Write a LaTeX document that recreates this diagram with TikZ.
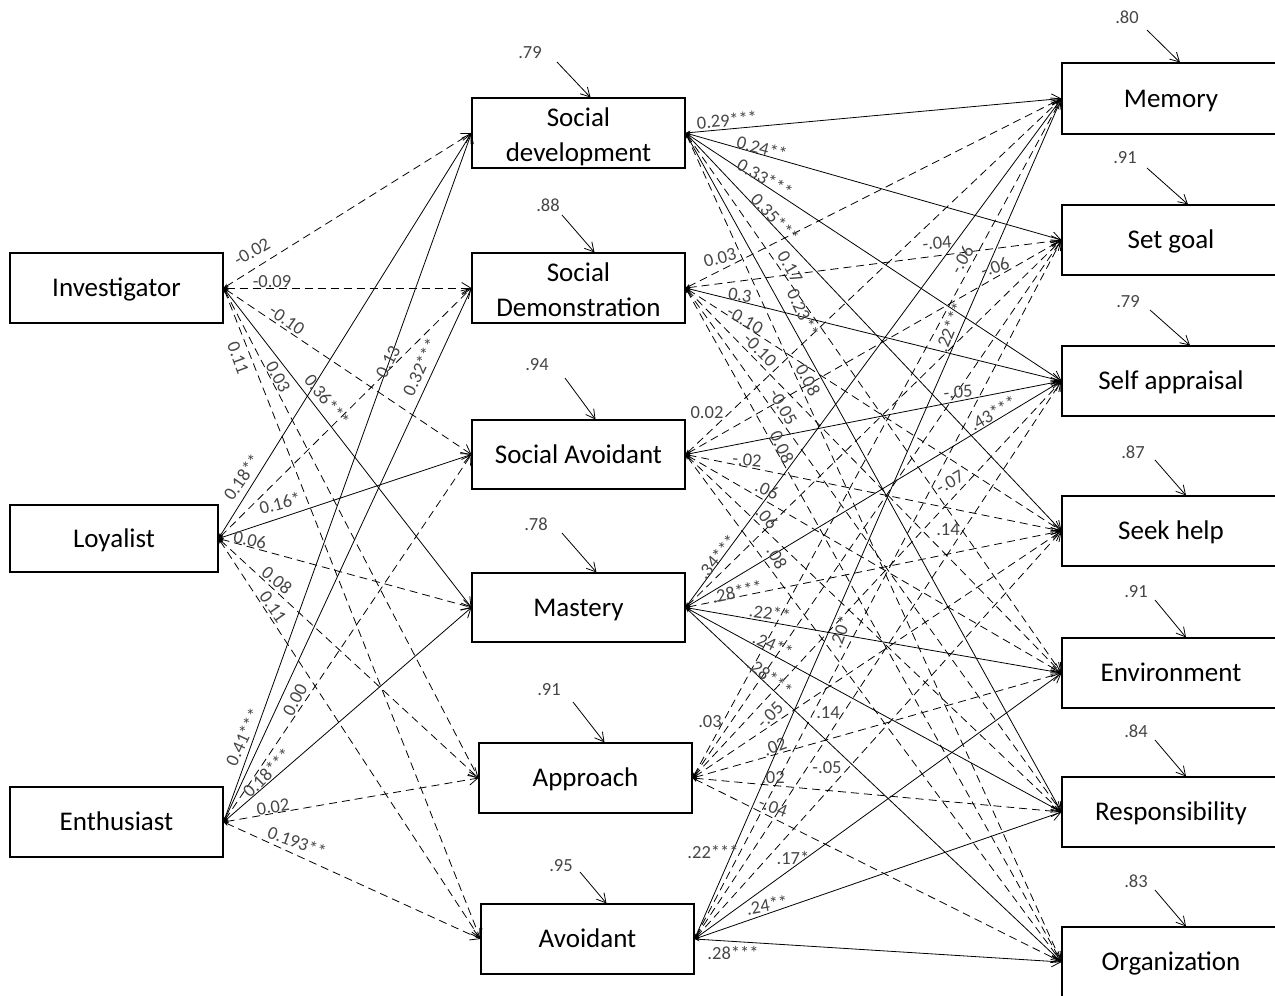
\documentclass[tikz,border=0pt]{standalone}
\usepackage{fontspec}
\setmainfont{Carlito}
\usetikzlibrary{arrows.meta,calc}
\definecolor{lbl}{RGB}{70,70,70}
\begin{document}
\begin{tikzpicture}[x=1pt,y=-1pt,
  box/.style={draw,line width=1.1pt,minimum width=213pt,minimum height=70pt,inner sep=0pt,align=center,font=\fontsize{27}{35}\selectfont,text height=17pt,text depth=0pt},
  box2/.style={box,text height=57pt},
  rbox/.style={box,minimum width=218pt},
  lab/.style={text=lbl,inner sep=0pt,font=\fontsize{18.5}{20}\selectfont},
  sl/.style={line width=0.8pt,arrows={Stealth[length=5pt,width=4pt]-Straight Barb[length=9pt,width=11pt]}},
  dl/.style={sl,dash pattern=on 8pt off 5pt},
  err/.style={line width=0.8pt,arrows={-Straight Barb[length=9pt,width=10pt]}}]
\useasboundingbox (0,0) rectangle (1275,996);
% left column
\node[box] (Inv) at (116.5,288) {Investigator};
\node[box,minimum width=208pt,minimum height=67pt] (Loy) at (114,538.5) {Loyalist};
\node[box] (Ent) at (116.5,822) {Enthusiast};
% middle column
\node[box2] (SD) at (578.5,133) {Social\\development};
\node[box2] (SDem) at (578.5,288) {Social\\Demonstration};
\node[box,minimum height=69pt] (SA) at (578.5,454.5) {Social Avoidant};
\node[box,minimum height=69pt] (M) at (578.5,607.5) {Mastery};
\node[box] (Ap) at (585.5,778) {Approach};
\node[box] (Av) at (587.5,939) {Avoidant};
% right column
\node[rbox,minimum height=71pt] (Mem) at (1171,98.5) {Memory};
\node[rbox] (SG) at (1171,240) {Set goal};
\node[rbox] (SelfA) at (1171,381) {Self appraisal};
\node[rbox] (SH) at (1171,531) {Seek help};
\node[rbox] (Env) at (1171,673) {Environment};
\node[rbox] (Resp) at (1171,812) {Responsibility};
\node[rbox] (Org) at (1171,962) {Organization};
% left -> middle paths
\foreach \s/\t/\st in {Inv/SD/dl,Inv/SDem/dl,Inv/SA/dl,Inv/M/sl,Inv/Ap/dl,Inv/Av/dl,
  Loy/SD/sl,Loy/SDem/dl,Loy/SA/sl,Loy/M/dl,Loy/Ap/dl,Loy/Av/dl,
  Ent/SD/sl,Ent/SDem/sl,Ent/SA/dl,Ent/M/sl,Ent/Ap/dl,Ent/Av/dl}
  \draw[\st] (\s.east) -- (\t.west);
% middle -> right paths
\foreach \s/\t/\st in {SD/Mem/sl,SD/SG/sl,SD/SelfA/sl,SD/SH/sl,SD/Env/dl,SD/Resp/sl,SD/Org/dl,
  SDem/Mem/dl,SDem/SG/dl,SDem/SelfA/sl,SDem/SH/dl,SDem/Env/dl,SDem/Resp/dl,SDem/Org/dl,
  SA/Mem/dl,SA/SG/dl,SA/SelfA/sl,SA/SH/dl,SA/Env/dl,SA/Resp/dl,SA/Org/dl,
  M/Mem/sl,M/SG/dl,M/SelfA/sl,M/SH/dl,M/Env/sl,M/Resp/sl,M/Org/sl,
  Ap/Mem/dl,Ap/SG/dl,Ap/SelfA/dl,Ap/SH/dl,Ap/Env/dl,Ap/Resp/dl,Ap/Org/dl,
  Av/Mem/sl,Av/SG/dl,Av/SelfA/dl,Av/SH/dl,Av/Env/sl,Av/Resp/sl,Av/Org/sl}
  \draw[\st] (\s.east) -- (\t.west);
% path coefficients
\foreach \x/\y/\r/\t [count=\i] in {
  252/252/30/-0.02, 272/282/0/-0.09, 287/320/-35/-0.10, 238/358/-70/0.11,
  278/377/-62/0.03, 327/400/-52/0.36***, 388/362/62/0.13, 420/367/65/0.32***,
  242/477/55/0.18**, 280/503/15/0.16*, 250/540/-12/0.06, 277/580/-40/0.08,
  273/607/-55/0.11, 243/737/65/0.41***, 295/700/62/0.00, 267/773/45/0.18***,
  273/807/8/0.02, 297/842/-20/0.193**,
  727/120/5/0.29***, 762/148/-15/0.24**, 765/178/-30/0.33***, 775/218/-47/0.35***,
  790/267/-60/0.17, 803/313/-65/0.23**, 720/258/15/0.03, 740/295/-8/0.3,
  745/320/-30/-0.10, 760/350/-45/-0.10, 808/380/-62/0.08, 783/407/-60/-0.05,
  782/447/-65/0.08, 707/413/0/0.02, 747/460/-5/-.02, 767/490/-25/.06,
  767/518/-50/.06, 777/558/-62/.08, 717/557/50/.34***, 937/243/5/-.04,
  962/260/60/-.06, 995/267/20/-.06, 950/327/68/.22***, 958/392/5/-.05,
  993/413/30/.43***, 950/482/30/-.07, 948/530/0/.14, 737/592/12/.28***,
  770/613/-8/.22**, 773/645/-25/.24**, 770/677/-38/.28***, 840/632/70/.20*,
  710/722/0/.03, 770/715/45/-.05, 828/713/0/.14, 775/747/20/.02,
  773/778/0/.02, 827/768/0/-.05, 773/807/-20/-.04, 713/852/0/.22***,
  793/858/0/.17*, 767/905/10/.24**, 733/953/0/.28***}
  \node[lab,rotate=\r] (c\i) at (\x,\y) {\t};
% error terms
\foreach \n/\x/\y/\v/\tx/\ty/\dx in {
  SD/530/53/.79/557/62/12, SDem/548/205/.88/562/215/16, SA/537/365/.94/565/378/17,
  M/536/524/.78/562/533/18, Ap/549/690/.91/573/702/19, Av/561/866/.95/580/872/19,
  Mem/1127/17/.80/1147/30/9, SG/1125/158/.91/1147/168/17, SelfA/1128/302/.79/1150/310/19,
  SH/1133/452/.87/1155/460/15, Env/1136/592/.91/1155/600/15, Resp/1136/731/.84/1155/740/15,
  Org/1136/881/.83/1155/890/15}
{
  \node[lab] (e\n) at (\x,\y) {\v};
  \coordinate (s\n) at (\tx,\ty);
  \draw[err] (s\n) -- ([xshift=\dx pt]\n.north);
}
\end{tikzpicture}
\end{document}
